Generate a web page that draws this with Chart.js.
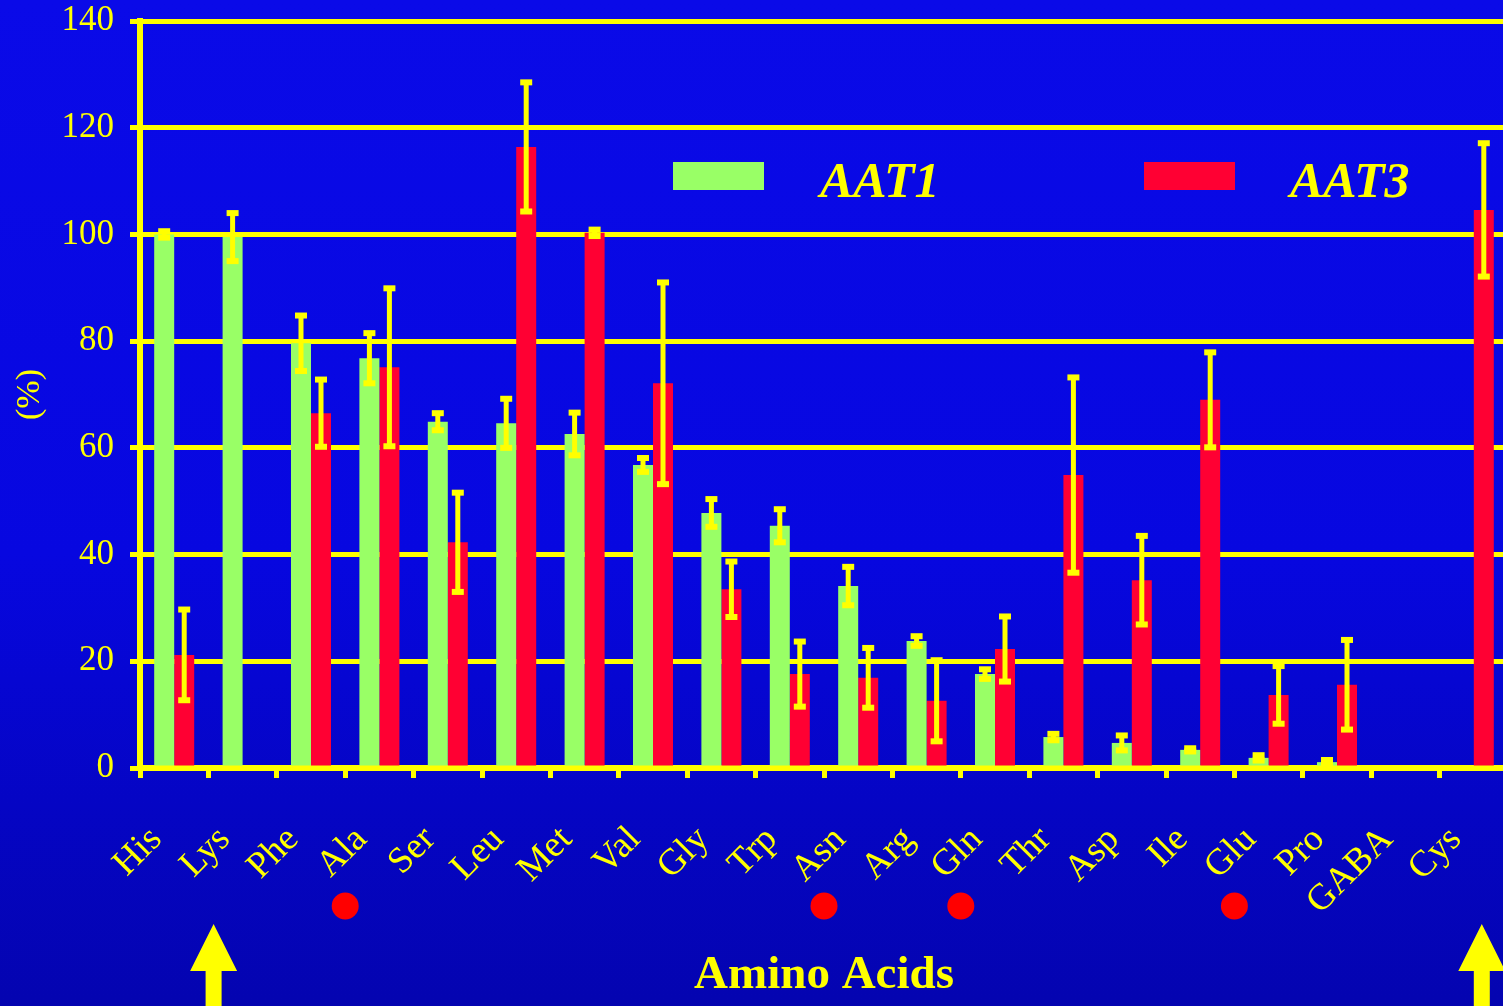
<!DOCTYPE html>
<html lang="en">
<head>
  <meta charset="UTF-8">
  <title>AAT1 / AAT3 Amino Acids</title>
  <script src="https://cdn.jsdelivr.net/npm/chart.js"></script>
  <style>
    html, body { margin: 0; padding: 0; overflow: hidden; }
    body {
      width: 1503px; height: 1006px;
      background: linear-gradient(to bottom, #0a0ae8 0%, #0707e0 55%, #0505c4 80%, #0404b0 100%);
    }
    #wrap { width: 1508px; height: 1006px; }
  </style>
</head>
<body>
  <div id="wrap"><canvas id="aaChart" width="1508" height="1006"></canvas></div>

  <script>
    const aminoAcids = ['His', 'Lys', 'Phe', 'Ala', 'Ser', 'Leu', 'Met', 'Val', 'Gly', 'Trp',
                        'Asn', 'Arg', 'Gln', 'Thr', 'Asp', 'Ile', 'Glu', 'Pro', 'GABA', 'Cys'];
    const aat1 = [100, 99.5, 79.6, 76.8, 64.9, 64.6, 62.6, 56.8, 47.8, 45.4,
                  34.1, 23.8, 17.6, 5.8, 4.7, 3.4, 1.9, 1.1, 0, 0];
    const aat1Err = [0.6, 4.5, 5.2, 4.7, 1.6, 4.6, 4.0, 1.3, 2.6, 3.1,
                     3.6, 0.9, 0.9, 0.6, 1.4, 0.3, 0.5, 0.4, 0, 0];
    const aat3 = [21.2, 0, 66.5, 75.1, 42.3, 116.4, 100.3, 72.1, 33.5, 17.6,
                  16.9, 12.6, 22.3, 54.9, 35.2, 69.0, 13.7, 15.6, 0, 104.6];
    const aat3Err = [8.5, 0, 6.3, 14.8, 9.3, 12.1, 0.6, 18.9, 5.2, 6.1,
                     5.6, 7.6, 6.1, 18.3, 8.3, 8.9, 5.4, 8.4, 0, 12.5];
    const yTicks = [0, 20, 40, 60, 80, 100, 120, 140];
    // categories flagged underneath the axis
    const dotMarked = ['Ala', 'Asn', 'Gln', 'Glu'];
    const arrowMarked = ['Lys', 'Cys'];

    const YELLOW = '#ffff00';
    const GREEN = '#99ff66';
    const RED = '#ff0033';
    const SERIF = "'Liberation Serif', 'Times New Roman', serif";

    Chart.defaults.font.family = SERIF;
    Chart.defaults.color = YELLOW;

    // error bars drawn at each bar through the y scale
    const errorBars = {
      id: 'errorBars',
      afterDatasetsDraw(chart) {
        const ctx = chart.ctx;
        const y = chart.scales.y;
        const errs = [aat1Err, aat3Err];
        ctx.save();
        ctx.fillStyle = YELLOW;
        chart.data.datasets.forEach((ds, i) => {
          const meta = chart.getDatasetMeta(i);
          meta.data.forEach((bar, j) => {
            const e = errs[i][j];
            if (!e) return;
            const v = ds.data[j];
            const top = y.getPixelForValue(v + e);
            const bot = y.getPixelForValue(Math.max(v - e, 0));
            ctx.fillRect(bar.x - 2.5, top, 5, bot - top);
            ctx.fillRect(bar.x - 6, top - 3, 12, 6);
            ctx.fillRect(bar.x - 6, bot - 3, 12, 6);
          });
        });
        ctx.restore();
      }
    };

    const legendInside = {
      id: 'legendInside',
      afterDraw(chart) {
        const ctx = chart.ctx;
        const a = chart.chartArea;
        const items = [
          { x: a.left + 533, tx: a.left + 680, i: 0 },
          { x: a.left + 1004, tx: a.left + 1150, i: 1 }
        ];
        ctx.save();
        items.forEach(it => {
          const ds = chart.data.datasets[it.i];
          ctx.fillStyle = ds.backgroundColor;
          ctx.fillRect(it.x, 162, 91, 28);
          ctx.fillStyle = YELLOW;
          ctx.font = 'italic bold 50px ' + SERIF;
          ctx.textBaseline = 'alphabetic';
          ctx.fillText(ds.label, it.tx, 197);
        });
        ctx.restore();
      }
    };

    const axisMarks = {
      id: 'axisMarks',
      afterDraw(chart) {
        const ctx = chart.ctx;
        const x = chart.scales.x;
        const half = (x.getPixelForValue(1) - x.getPixelForValue(0)) / 2;
        ctx.save();
        ctx.fillStyle = '#ff0000';
        dotMarked.forEach(name => {
          const cx = x.getPixelForValue(aminoAcids.indexOf(name)) - half;
          ctx.beginPath();
          ctx.arc(cx, 906, 13.5, 0, Math.PI * 2);
          ctx.fill();
        });
        const shift = { Lys: -29, Cys: 8 };
        ctx.fillStyle = YELLOW;
        arrowMarked.forEach(name => {
          const cx = x.getPixelForValue(aminoAcids.indexOf(name)) + shift[name];
          ctx.beginPath();
          ctx.moveTo(cx, 924);
          ctx.lineTo(cx + 23.5, 971);
          ctx.lineTo(cx + 8, 971);
          ctx.lineTo(cx + 8, 1010);
          ctx.lineTo(cx - 8, 1010);
          ctx.lineTo(cx - 8, 971);
          ctx.lineTo(cx - 23.5, 971);
          ctx.closePath();
          ctx.fill();
        });
        ctx.restore();
      }
    };

    new Chart(document.getElementById('aaChart'), {
      type: 'bar',
      data: {
        labels: aminoAcids,
        datasets: [
          { label: 'AAT1', data: aat1, backgroundColor: GREEN },
          { label: 'AAT3', data: aat3, backgroundColor: RED }
        ]
      },
      options: {
        responsive: false,
        animation: false,
        layout: { padding: 0 },
        datasets: { bar: { categoryPercentage: 0.585, barPercentage: 1.0 } },
        plugins: { legend: { display: false }, tooltip: { enabled: false } },
        scales: {
          x: {
            offset: true,
            afterFit(scale) {
              scale.height = 238;
              scale.paddingLeft = 0;
              scale.paddingRight = 0;
            },
            grid: { display: true, drawOnChartArea: false, color: YELLOW, lineWidth: 5, tickLength: 10, offset: true },
            border: { color: YELLOW, width: 6 },
            ticks: {
              color: YELLOW, autoSkip: false, minRotation: 45, maxRotation: 45,
              padding: 40, labelOffset: -18, font: { size: 37, family: SERIF }
            },
            title: {
              display: true, text: 'Amino Acids', color: YELLOW,
              font: { size: 47, weight: 'bold', family: SERIF },
              padding: { top: 0, bottom: 2 }
            }
          },
          y: {
            min: 0, max: 140,
            afterFit(scale) {
              scale.width = 140;
              scale.paddingTop = 21;
              scale.paddingBottom = 0;
            },
            afterBuildTicks(scale) { scale.ticks = yTicks.map(v => ({ value: v })); },
            grid: { color: YELLOW, lineWidth: 5, tickLength: 10 },
            border: { color: YELLOW, width: 6 },
            ticks: { color: YELLOW, padding: 16, font: { size: 35, family: SERIF } },
            title: {
              display: true, text: '(%)', color: YELLOW,
              font: { size: 34, family: SERIF },
              padding: { top: 10, bottom: 0 }
            }
          }
        }
      },
      plugins: [errorBars, legendInside, axisMarks]
    });
  </script>
</body>
</html>
